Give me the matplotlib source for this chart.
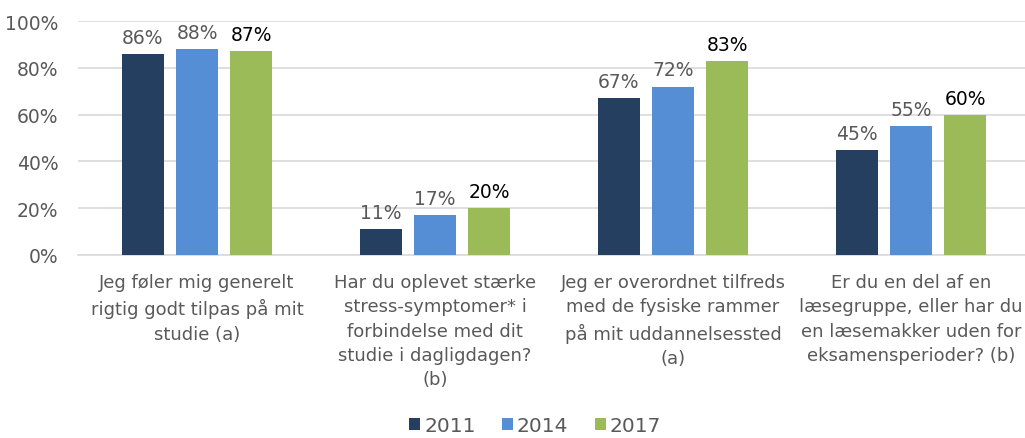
import matplotlib.pyplot as plt
import numpy as np

plt.rcParams['font.family'] = ['DejaVu Sans']

categories = [
    "Jeg føler mig generelt\nrigtig godt tilpas på mit\nstudie (a)",
    "Har du oplevet stærke\nstress-symptomer* i\nforbindelse med dit\nstudie i dagligdagen?\n(b)",
    "Jeg er overordnet tilfreds\nmed de fysiske rammer\npå mit uddannelsessted\n(a)",
    "Er du en del af en\nlæsegruppe, eller har du\nen læsemakker uden for\neksamensperioder? (b)",
]
years = ["2011", "2014", "2017"]
v2011 = [86, 11, 67, 45]
v2014 = [88, 17, 72, 55]
v2017 = [87, 20, 83, 60]

colors = ["#243F60", "#558ED5", "#9BBB59"]
label_colors = ["#595959", "#595959", "#000000"]

fig = plt.figure(figsize=(10.25, 4.39), dpi=100)
ax = fig.add_axes([78 / 1025, 1 - 256 / 439, (1030 - 78) / 1025, (256 - 22) / 439])

x = np.arange(len(categories))
step = 0.227
width = 0.176
for i, (vals, yr) in enumerate(zip([v2011, v2014, v2017], years)):
    pos = x + (i - 1) * step
    ax.bar(pos, vals, width, color=colors[i], label=yr, zorder=3)
    for p, v in zip(pos, vals):
        ax.text(p, v + 3, f"{v}%", ha="center", va="bottom",
                fontsize=13.5, color=label_colors[i])

ax.set_xlim(-0.5, len(categories) - 0.5)
ax.set_ylim(0, 100)
ax.set_yticks(range(0, 101, 20))
ax.set_yticklabels([f"{t}%" for t in range(0, 101, 20)], fontsize=13.5, color="#595959")
ax.set_xticks(x)
ax.set_xticklabels(categories, fontsize=13, color="#595959", linespacing=1.45)
ax.tick_params(axis="both", length=0)
ax.tick_params(axis="y", pad=14)
ax.tick_params(axis="x", pad=13)
ax.grid(axis="y", color="#D9D9D9", linewidth=1.2, zorder=0)
for s in ["top", "right", "left"]:
    ax.spines[s].set_visible(False)
ax.spines["bottom"].set_color("#D9D9D9")
ax.spines["bottom"].set_linewidth(1.2)

fig.legend(loc="lower center", bbox_to_anchor=(0.522, -0.035), ncol=3, frameon=False,
           fontsize=14.5, handlelength=0.55, handleheight=0.55, handletextpad=0.2,
           columnspacing=1.3, labelcolor="#595959")

fig.savefig("out.png", dpi=100)
